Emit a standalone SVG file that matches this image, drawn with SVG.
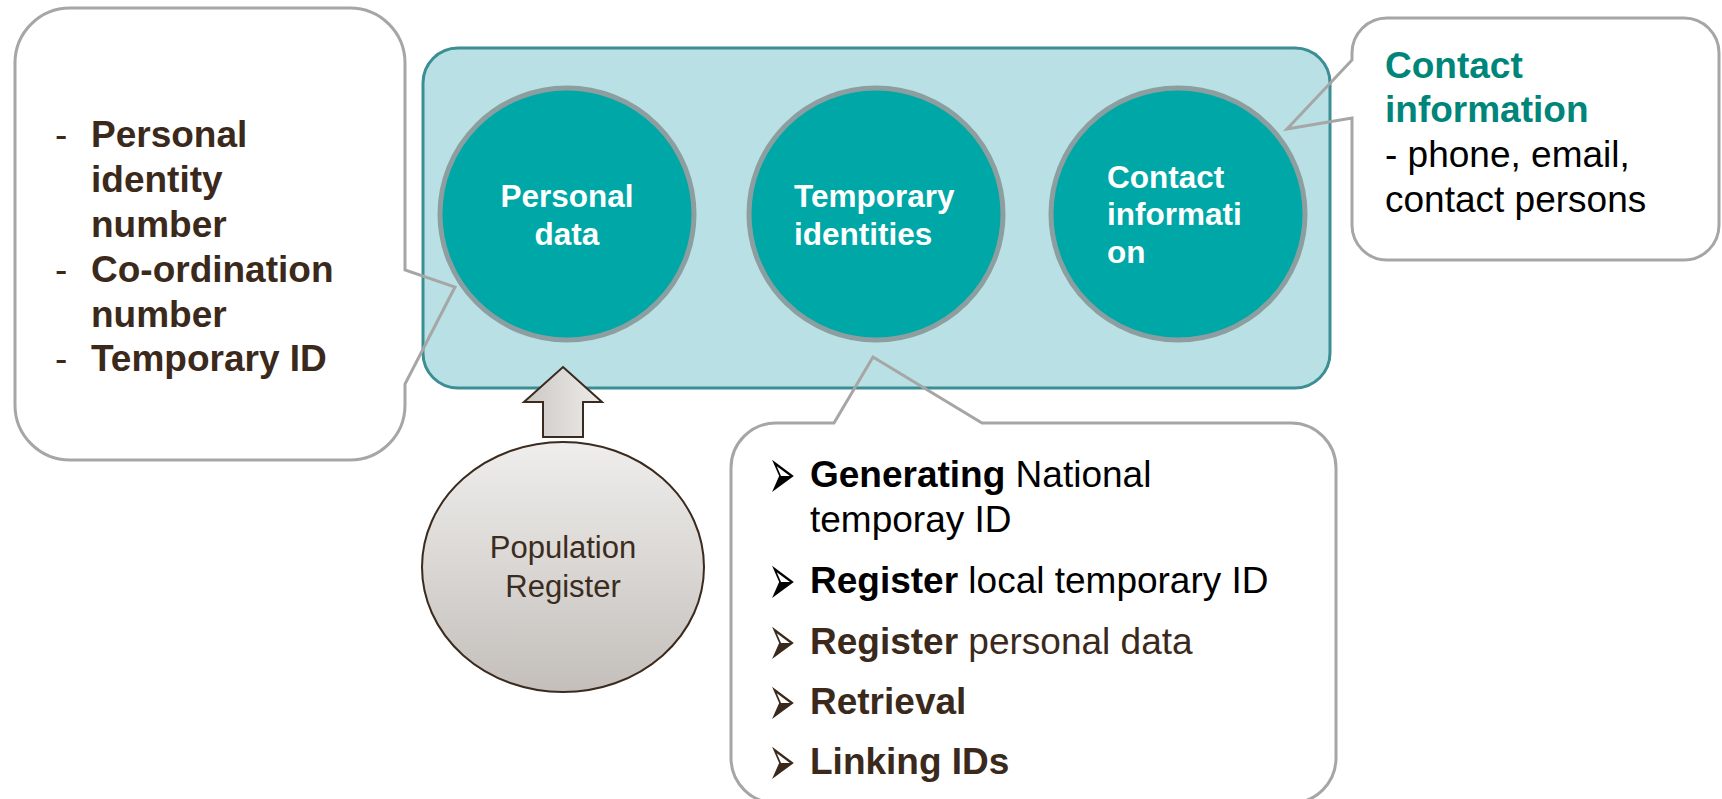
<svg xmlns="http://www.w3.org/2000/svg" xmlns:xlink="http://www.w3.org/1999/xlink" width="1722" height="799" viewBox="0 0 1722 799">
<style>
.cfill{fill:#ffffff;stroke:none}
.cline{fill:none;stroke:#a6a6a6;stroke-width:3;stroke-linejoin:miter}
.circle{fill:#00a7a7;stroke:#8c9e9f;stroke-width:5}
.ctext{font-family:"Liberation Sans",Arial,sans-serif;font-weight:bold;font-size:31.5px;fill:#ffffff}
.t{font-family:"Liberation Sans",Arial,sans-serif;font-size:37px}
.b{font-weight:bold}
.brown{fill:#3b2a1b}
.black{fill:#000000}
.teal{fill:#00857a}
.bul{font-family:"DejaVu Sans",sans-serif;font-size:44px}
</style>
<defs>
<clipPath id="outsideMain">
<path clip-rule="evenodd" d="M0,0H1722V799H0Z M458,46 H1295 A37 37 0 0 1 1332,83 V353 A37 37 0 0 1 1295,390 H458 A37 37 0 0 1 421,353 V83 A37 37 0 0 1 458,46Z"/>
</clipPath>
<linearGradient id="popGrad" x1="0" y1="0" x2="0" y2="1">
<stop offset="0" stop-color="#efeeec"/>
<stop offset="1" stop-color="#c4bfbb"/>
</linearGradient>
<linearGradient id="arrowGrad" x1="0" y1="0" x2="1" y2="0">
<stop offset="0" stop-color="#cbc7c4"/>
<stop offset="1" stop-color="#eeecea"/>
</linearGradient>
<path id="leftShape" d="M70,8 H350 A55 55 0 0 1 405,63 V270 L455,287 L405,384 V405 A55 55 0 0 1 350,460 H70 A55 55 0 0 1 15,405 V63 A55 55 0 0 1 70,8 Z"/>
<path id="rightShape" d="M1387,18 H1684 A35 35 0 0 1 1719,53 V225 A35 35 0 0 1 1684,260 H1387 A35 35 0 0 1 1352,225 V118 L1287,129 L1352,60 V53 A35 35 0 0 1 1387,18 Z"/>
<path id="bottomShape" d="M776,423 H834 L873,357 L982,423 H1291 A45 45 0 0 1 1336,468 V758 A45 45 0 0 1 1291,803 H776 A45 45 0 0 1 731,758 V468 A45 45 0 0 1 776,423 Z"/>
</defs>

<g id="main-container">
<rect x="423" y="48" width="907" height="340" rx="35" ry="35" fill="#b9e0e4" stroke="#3a8e94" stroke-width="3"/>
</g>

<g id="node-personal-data">
<ellipse class="circle" cx="567" cy="214" rx="127" ry="126"/>
<text class="ctext" x="567" y="207" text-anchor="middle">Personal</text>
<text class="ctext" x="567" y="245" text-anchor="middle">data</text>
</g>

<g id="node-temporary-identities">
<ellipse class="circle" cx="876" cy="214" rx="127" ry="126"/>
<text class="ctext" x="794" y="207">Temporary</text>
<text class="ctext" x="794" y="245">identities</text>
</g>

<g id="node-contact-information">
<ellipse class="circle" cx="1178" cy="214" rx="127" ry="126"/>
<text class="ctext" x="1107" y="188">Contact</text>
<text class="ctext" x="1107" y="225">informati</text>
<text class="ctext" x="1107" y="263">on</text>
</g>

<g id="callout-identifiers">
<use xlink:href="#leftShape" class="cfill" clip-path="url(#outsideMain)"/>
<use xlink:href="#leftShape" class="cline"/>
<text class="t brown" x="55" y="147">-</text>
<text class="t brown b" x="91" y="147">Personal</text>
<text class="t brown b" x="91" y="192">identity</text>
<text class="t brown b" x="91" y="237">number</text>
<text class="t brown" x="55" y="282">-</text>
<text class="t brown b" x="91" y="282">Co-ordination</text>
<text class="t brown b" x="91" y="327">number</text>
<text class="t brown" x="55" y="371">-</text>
<text class="t brown b" x="91" y="371">Temporary ID</text>
</g>

<g id="callout-contact">
<use xlink:href="#rightShape" class="cfill" clip-path="url(#outsideMain)"/>
<use xlink:href="#rightShape" class="cline"/>
<text class="t teal b" x="1385" y="78">Contact</text>
<text class="t teal b" x="1385" y="122">information</text>
<text class="t black" x="1385" y="167">- phone, email,</text>
<text class="t black" x="1385" y="212">contact persons</text>
</g>

<g id="callout-functions">
<use xlink:href="#bottomShape" class="cfill" clip-path="url(#outsideMain)"/>
<use xlink:href="#bottomShape" class="cline"/>
<text class="bul black" transform="translate(768.6,498.5) scale(0.73,1.67)">➢</text>
<text class="t black" x="810" y="487"><tspan class="b">Generating</tspan> National</text>
<text class="t black" x="810" y="532">temporay ID</text>
<text class="bul black" transform="translate(768.6,604.5) scale(0.73,1.67)">➢</text>
<text class="t black" x="810" y="593"><tspan class="b">Register</tspan> local temporary ID</text>
<text class="bul brown" transform="translate(768.6,665.5) scale(0.73,1.67)">➢</text>
<text class="t brown" x="810" y="654"><tspan class="b">Register</tspan> personal data</text>
<text class="bul brown" transform="translate(768.6,725.5) scale(0.73,1.67)">➢</text>
<text class="t brown b" x="810" y="714">Retrieval</text>
<text class="bul brown" transform="translate(768.6,785.5) scale(0.73,1.67)">➢</text>
<text class="t brown b" x="810" y="774">Linking IDs</text>
</g>

<g id="node-population-register">
<ellipse cx="563" cy="567" rx="141" ry="125" fill="url(#popGrad)" stroke="#3b2a1e" stroke-width="2"/>
<text x="563" y="558" text-anchor="middle" font-family="Liberation Sans, Arial, sans-serif" font-size="31" fill="#3b2c20">Population</text>
<text x="563" y="597" text-anchor="middle" font-family="Liberation Sans, Arial, sans-serif" font-size="31" fill="#3b2c20">Register</text>
</g>

<g id="connectors">
<polygon points="563,367 602,402 583,402 583,437 543,437 543,402 524,402" fill="url(#arrowGrad)" stroke="#3b2a1e" stroke-width="2" stroke-linejoin="miter"/>
</g>
</svg>
